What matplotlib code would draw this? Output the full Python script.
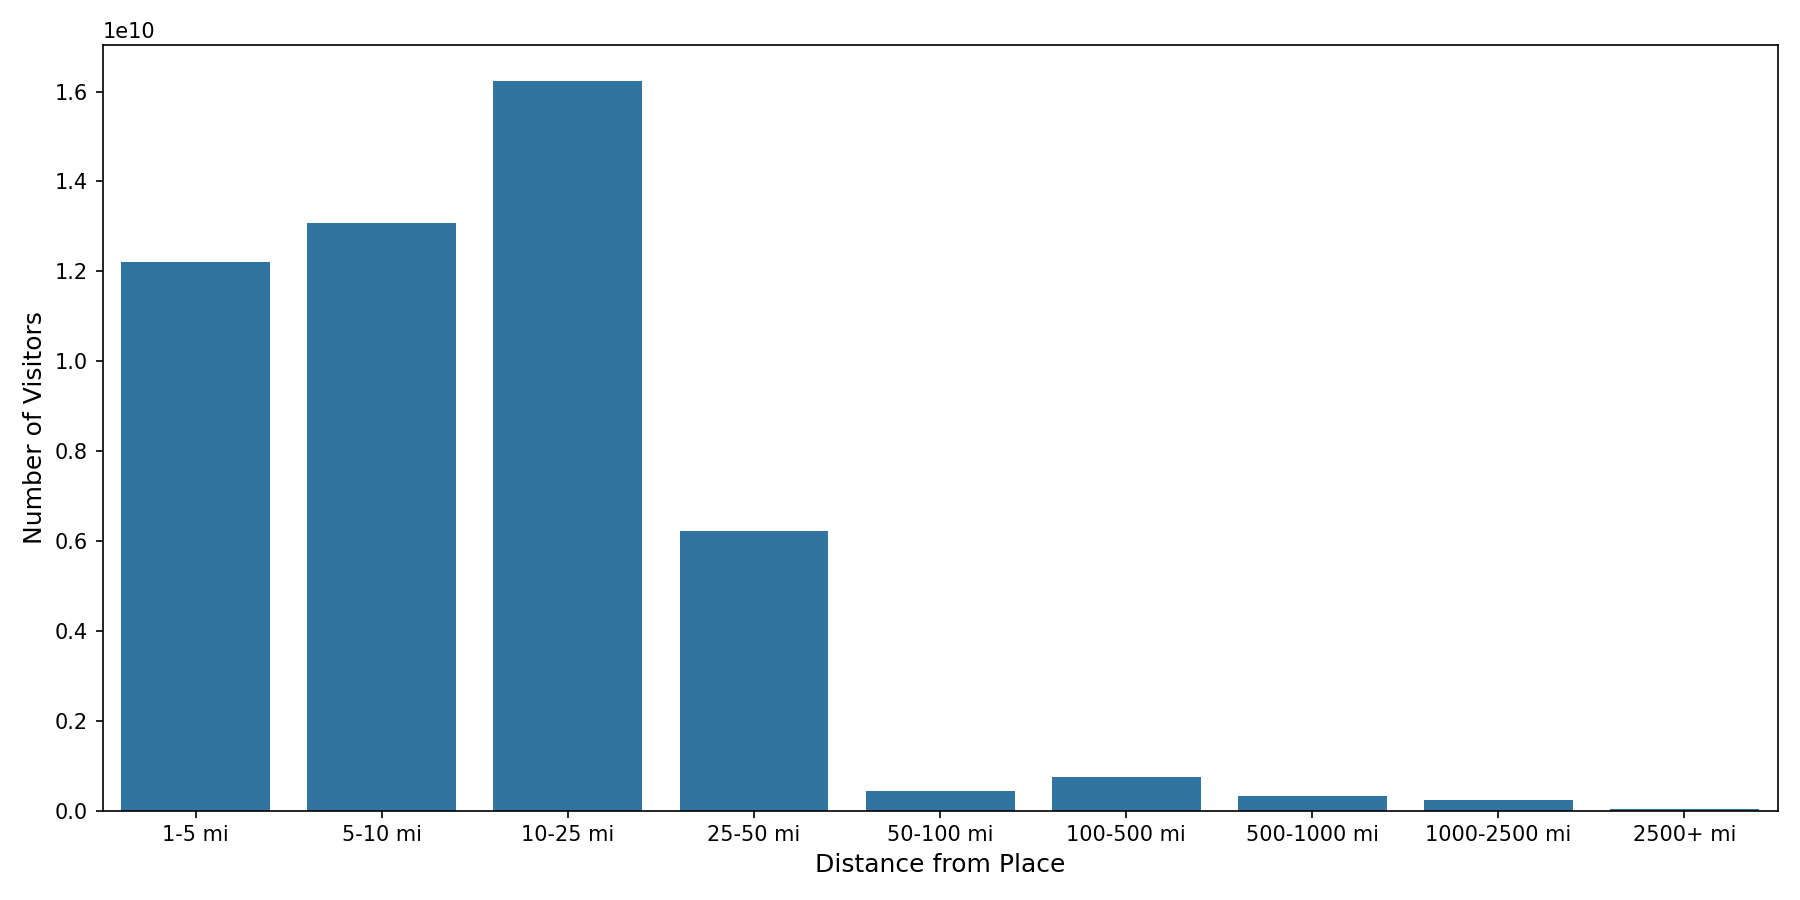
import matplotlib
matplotlib.use("Agg")
import matplotlib.pyplot as plt
import seaborn as sns

categories = ["1-5 mi", "5-10 mi", "10-25 mi", "25-50 mi", "50-100 mi",
              "100-500 mi", "500-1000 mi", "1000-2500 mi", "2500+ mi"]
visitors = [1.22e10, 1.307e10, 1.623e10, 6.23e9, 4.4e8, 7.5e8, 3.3e8, 2.3e8, 3e7]

fig, ax = plt.subplots(figsize=(12, 6), dpi=150)
sns.barplot(x=categories, y=visitors, color="#1f77b4", ax=ax)
ax.set_xlabel("Distance from Place", fontsize=12)
ax.set_ylabel("Number of Visitors", fontsize=12)
fig.tight_layout()
fig.savefig("out.png")
